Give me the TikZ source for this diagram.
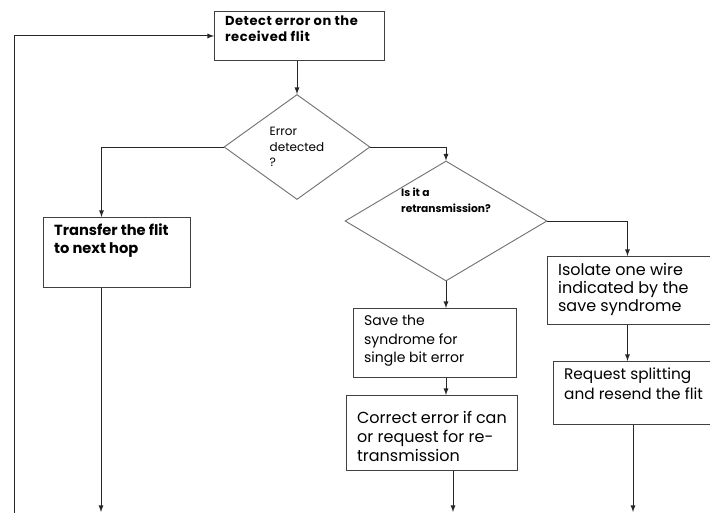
\documentclass[tikz,border=0pt]{standalone}
\usepackage{fontspec}
\setmainfont{Poppins}
\usetikzlibrary{calc, shapes.geometric, positioning}
\newcommand{\boxbody}[3]{\parbox[t][#2][t]{#1}{\raggedright #3}}

\begin{document}
\begin{tikzpicture}[x=0.75pt, y=-0.75pt]
	\tikzset{flowBox/.style={draw=black!75, anchor=north west, inner xsep=8pt, inner ysep=5pt, line width=0.7pt}}
	\tikzset{decide/.style={diamond, draw=black!55, inner sep=0pt, align=left, line width=0.7pt}}
	\tikzset{flow/.style={->, >=latex, line width=0.7pt, black!85}}
	\useasboundingbox (0,0) rectangle (710,513);
	% process boxes
	\node[flowBox, inner ysep=3pt] (detect) at (214,11) {\boxbody{111.5pt}{30.75pt}{\fontsize{9.8}{12}\selectfont\bfseries\addfontfeature{LetterSpace=4}Detect error on the\\received flit}};
	\node[flowBox] (transfer) at (43,217) {\boxbody{94.25pt}{42.5pt}{\fontsize{11}{13}\selectfont\bfseries Transfer the flit\\to next hop}};
	\node[flowBox] (save) at (353,308) {\boxbody{106.25pt}{41.75pt}{\fontsize{10.5}{14}\selectfont Save the\\syndrome for\\single bit error}};
	\node[flowBox] (correct) at (346,395) {\boxbody{112.25pt}{46.25pt}{\vspace*{7pt}\fontsize{12}{14}\selectfont Correct error if can\\or request for re-\\transmission}};
	\node[flowBox] (isolate) at (547,256) {\boxbody{110pt}{41pt}{\fontsize{12}{13.5}\selectfont Isolate one wire\\indicated by the\\save syndrome}};
	\node[flowBox] (request) at (553,361) {\boxbody{105.5pt}{37.25pt}{\fontsize{11.5}{15}\selectfont Request splitting\\and resend the flit}};
	% decisions
	\node[decide, minimum width=109.5pt, minimum height=78.75pt, font=\fontsize{9}{11.6}\selectfont] (err) at (297,147) {Error\\detected\\?};
	\node[decide, minimum width=151.5pt, minimum height=90pt] (retr) at (446,221) {\raisebox{12.5pt}[0pt][0pt]{\fontsize{8}{12}\selectfont\bfseries\begin{tabular}{@{}l@{}}Is it a\\retransmission?\end{tabular}}};
	% loose ends at the bottom edge
	\coordinate (loopIn) at (14,513);
	\coordinate (outLeft) at (101,512);
	\coordinate (outMid) at (453,512);
	\coordinate (outRight) at (633,512);
	% connectors
	\draw[flow] (err.north |- detect.south) -- (err.north);
	\draw[flow] (err.west) -| ([xshift=-11.6pt]transfer.north);
	\draw[flow] (outLeft |- transfer.south) -- (outLeft);
	\draw[flow] (loopIn) |- (detect.west);
	\draw[flow] (err.east) -| (retr.north);
	\draw[flow] (retr.south) -- (retr.south |- save.north);
	\draw[flow] (retr.south |- save.south) -- (retr.south |- correct.north);
	\draw[flow] (outMid |- correct.south) -- (outMid);
	\draw[flow] (retr.east) -| ([xshift=-3pt]isolate.north);
	\draw[flow] ([xshift=-3pt]isolate.south) -- ([xshift=-3pt]isolate.south |- request.north);
	\draw[flow] (outRight |- request.south) -- (outRight);
\end{tikzpicture}
\end{document}
